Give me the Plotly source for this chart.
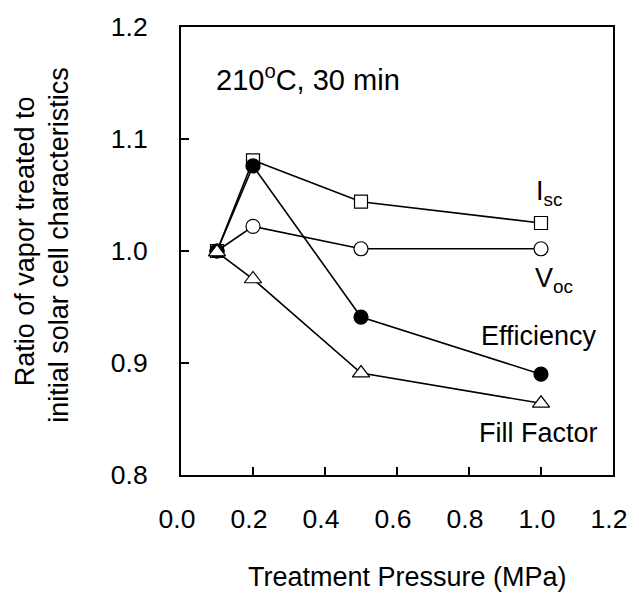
import plotly.graph_objects as go

pressure = [0.1, 0.2, 0.5, 1.0]
isc = [1.0, 1.081, 1.044, 1.025]
voc = [1.0, 1.022, 1.002, 1.002]
efficiency = [1.0, 1.076, 0.941, 0.890]
fill_factor = [0.999, 0.975, 0.891, 0.864]

x_ticks = [0.0, 0.2, 0.4, 0.6, 0.8, 1.0, 1.2]
x_tick_labels = ["0.0", "0.2", "0.4", "0.6", "0.8", "1.0", "1.2"]
y_ticks = [0.8, 0.9, 1.0, 1.1, 1.2]
y_tick_labels = ["0.8", "0.9", "1.0", "1.1", "1.2"]

FONT = "Liberation Sans, Arial, sans-serif"

fig = go.Figure()

def add_series(y, symbol, fill, size):
    fig.add_trace(go.Scatter(
        x=pressure, y=y, mode="lines+markers",
        line=dict(color="black", width=1.6),
        marker=dict(symbol=symbol, size=size, color=fill,
                    line=dict(color="black", width=1.2)),
        showlegend=False, cliponaxis=False,
    ))

add_series(isc, "square", "white", 13)
add_series(voc, "circle", "white", 14)
add_series(efficiency, "circle", "black", 14)
add_series(fill_factor, "triangle-up", "white", 15)

labels = [
    ("210<sup>o</sup>C, 30 min", 0.0905, 1.1545, 29),
    ("I<sub>sc</sub>", 0.981, 1.0521, 27),
    ("V<sub>oc</sub>", 0.978, 0.9745, 27),
    ("Efficiency", 0.828, 0.9244, 27),
    ("Fill Factor", 0.823, 0.8375, 27),
]
for text, x, y, size in labels:
    fig.add_annotation(x=x, y=y, xref="x", yref="y", text=text, showarrow=False,
                       xanchor="left", yanchor="middle",
                       font=dict(family=FONT, size=size, color="black"))

y_title_lines = [("Ratio of vapor treated to", -0.362, 0.521),
                 ("initial solar cell characteristics", -0.281, 0.513)]
for text, x, y in y_title_lines:
    fig.add_annotation(x=x, y=y, xref="paper", yref="paper",
                       text=text, textangle=-90, showarrow=False,
                       xanchor="center", yanchor="middle",
                       font=dict(family=FONT, size=27, color="black"))
fig.add_annotation(x=0.524, y=-0.228, xref="paper", yref="paper",
                   text="Treatment Pressure (MPa)", showarrow=False,
                   xanchor="center", yanchor="middle",
                   font=dict(family=FONT, size=27, color="black"))

axis_common = dict(showline=True, linecolor="black", linewidth=2, mirror=True,
                   ticks="inside", ticklen=8, tickwidth=1.5, tickcolor="black",
                   showgrid=False, zeroline=False, ticklabeloverflow="allow",
                   tickfont=dict(family=FONT, size=26.5, color="black"))

fig.update_xaxes(range=[0, 1.2], tickvals=x_ticks, ticktext=x_tick_labels,
                 ticklabelstandoff=19, ticklabelshift=-4, **axis_common)
fig.update_yaxes(range=[0.8, 1.2], tickvals=y_ticks, ticktext=y_tick_labels,
                 ticklabelstandoff=26, **axis_common)

fig.update_layout(width=639, height=594,
                  margin=dict(l=181, r=18, t=22, b=119),
                  plot_bgcolor="white", paper_bgcolor="white",
                  font=dict(family=FONT, size=26, color="black"))

fig.write_html("out.html", config={"displayModeBar": False},
               post_script="document.body.style.margin='0';document.body.style.overflow='hidden';")
